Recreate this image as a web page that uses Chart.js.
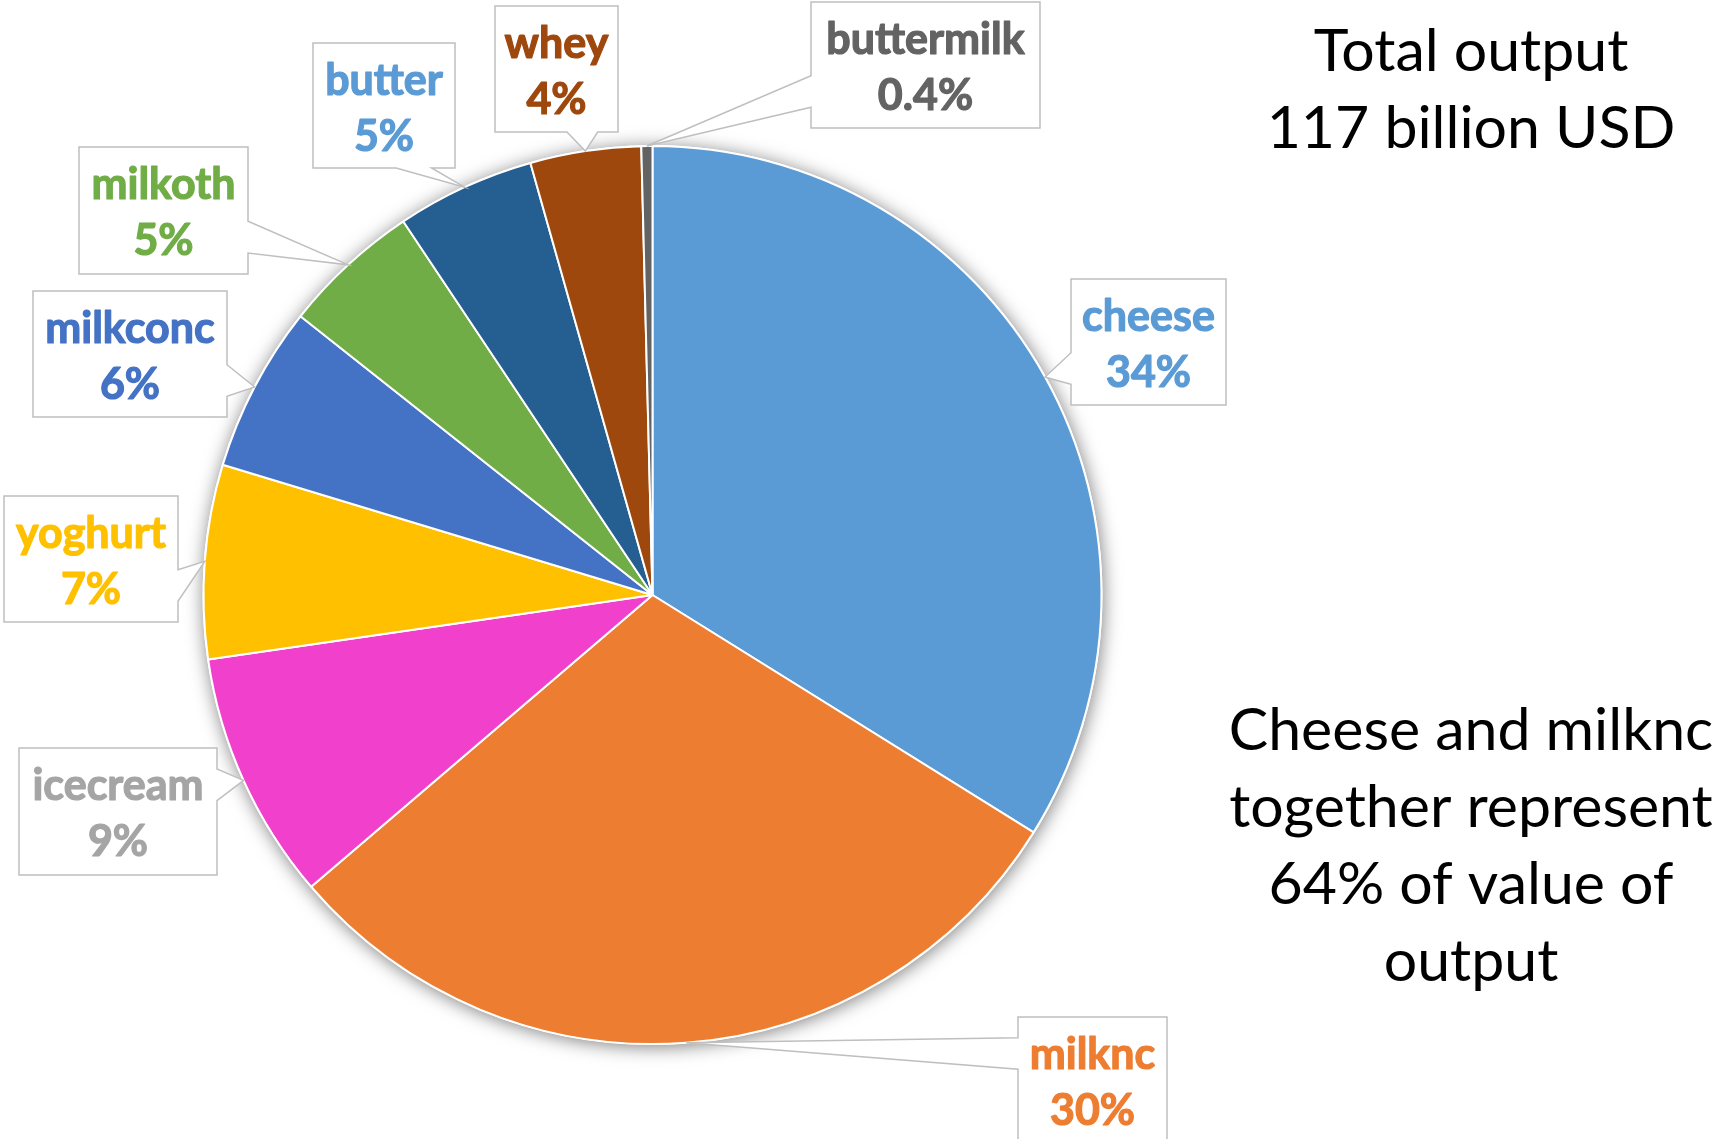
<!DOCTYPE html>
<html>
<head>
<meta charset="utf-8">
<script src="https://cdn.jsdelivr.net/npm/chart.js@4/dist/chart.umd.min.js"></script>
<style>
  html, body { margin: 0; padding: 0; background: #ffffff; }
  #wrap { width: 1716px; height: 1139px; position: relative; }
</style>
</head>
<body>
<div id="wrap"><canvas id="pie" width="1716" height="1139"></canvas></div>
<script>
// Dairy output by product, share of total value (%)
const categories = ['cheese', 'milknc', 'icecream', 'yoghurt', 'milkconc', 'milkoth', 'butter', 'whey', 'buttermilk'];
const shares = [34, 30, 9, 7, 6, 5, 5, 4, 0.4];

const sliceColors = ['#5B9BD5', '#ED7D31', '#F040CC', '#FFC000', '#4472C4', '#70AD47', '#255E91', '#9E480E', '#636363'];
const labelColors = ['#5B9BD5', '#ED7D31', '#A5A5A5', '#FFC000', '#4472C4', '#70AD47', '#5B9BD5', '#9E480E', '#636363'];

const totalLines = ['Total output', '117 billion USD'];
const noteLines = ['Cheese and milknc', 'together represent', '64% of value of', 'output'];

// Callout box layout: left, top, width, height, side the pointer leaves from
const calloutBoxes = [
  [1071, 279, 155, 126, 'L'],
  [1018, 1017, 149, 126, 'L'],
  [19, 748, 198, 127, 'R'],
  [4, 496, 174, 126, 'R'],
  [33, 291, 194, 126, 'R'],
  [79, 147, 169, 127, 'R'],
  [313, 43, 142, 125, 'B'],
  [495, 6, 123, 126, 'B'],
  [811, 2, 229, 126, 'L']
];

const LABEL_FONT = 'Lato, "Open Sans", sans-serif';

// Soft glow drawn behind the whole pie
const pieShadow = {
  id: 'pieShadow',
  beforeDatasetsDraw(chart) {
    const arc = chart.getDatasetMeta(0).data[0];
    if (!arc) return;
    const { x, y, outerRadius } = arc.getProps(['x', 'y', 'outerRadius'], true);
    const ctx = chart.ctx;
    ctx.save();
    ctx.shadowColor = 'rgba(0,0,0,0.5)';
    ctx.shadowBlur = 18;
    ctx.shadowOffsetX = 1;
    ctx.shadowOffsetY = 2;
    ctx.beginPath();
    ctx.arc(x, y, outerRadius + 1, 0, Math.PI * 2);
    ctx.fillStyle = '#ffffff';
    ctx.fill();
    ctx.restore();
  }
};

// Wedge-shaped callouts pointing at the outer edge of each slice
const callouts = {
  id: 'callouts',
  afterDatasetsDraw(chart) {
    const ctx = chart.ctx;
    const meta = chart.getDatasetMeta(0);
    meta.data.forEach((arc, i) => {
      const p = arc.getProps(['x', 'y', 'startAngle', 'endAngle', 'outerRadius'], true);
      const mid = (p.startAngle + p.endAngle) / 2;
      const ax = p.x + Math.cos(mid) * p.outerRadius;
      const ay = p.y + Math.sin(mid) * p.outerRadius;
      const [l, t, w, h, side] = calloutBoxes[i];
      const r = l + w, b = t + h;
      ctx.save();
      ctx.beginPath();
      if (side === 'L' || side === 'R') {
        const far = ay > t + h / 2;
        const b0 = t + h * (far ? 0.585 : 0.165);
        const b1 = t + h * (far ? 0.835 : 0.415);
        if (side === 'R') {
          ctx.moveTo(l, t); ctx.lineTo(r, t); ctx.lineTo(r, b0); ctx.lineTo(ax, ay);
          ctx.lineTo(r, b1); ctx.lineTo(r, b); ctx.lineTo(l, b);
        } else {
          ctx.moveTo(l, t); ctx.lineTo(r, t); ctx.lineTo(r, b); ctx.lineTo(l, b);
          ctx.lineTo(l, b1); ctx.lineTo(ax, ay); ctx.lineTo(l, b0);
        }
      } else {
        const far = ax > l + w / 2;
        const b0 = l + w * (far ? 0.585 : 0.165);
        const b1 = l + w * (far ? 0.835 : 0.415);
        ctx.moveTo(l, t); ctx.lineTo(r, t); ctx.lineTo(r, b); ctx.lineTo(b1, b);
        ctx.lineTo(ax, ay); ctx.lineTo(b0, b); ctx.lineTo(l, b);
      }
      ctx.closePath();
      ctx.fillStyle = '#ffffff';
      ctx.fill();
      ctx.lineWidth = 1.5;
      ctx.strokeStyle = '#BFBFBF';
      ctx.stroke();

      ctx.fillStyle = labelColors[i];
      ctx.strokeStyle = labelColors[i];
      ctx.lineWidth = 1.2;
      ctx.lineJoin = 'round';
      ctx.font = 'bold 43px ' + LABEL_FONT;
      ctx.textAlign = 'center';
      ctx.textBaseline = 'alphabetic';
      const cx = l + w / 2;
      const pct = shares[i] + '%';
      ctx.fillText(categories[i], cx, t + 52);
      ctx.strokeText(categories[i], cx, t + 52);
      ctx.fillText(pct, cx, t + 108);
      ctx.strokeText(pct, cx, t + 108);
      ctx.restore();
    });
  }
};

// Free-standing notes at the right of the chart
const notes = {
  id: 'notes',
  afterDraw(chart) {
    const ctx = chart.ctx;
    ctx.save();
    ctx.fillStyle = '#000000';
    ctx.font = '59px ' + LABEL_FONT;
    ctx.textAlign = 'center';
    ctx.textBaseline = 'alphabetic';
    totalLines.forEach((s, k) => ctx.fillText(s, 1471, 71 + k * 77));
    noteLines.forEach((s, k) => ctx.fillText(s, 1471, 750 + k * 77));
    ctx.restore();
  }
};

new Chart(document.getElementById('pie'), {
  type: 'pie',
  data: {
    labels: categories,
    datasets: [{
      data: shares,
      backgroundColor: sliceColors,
      borderColor: '#ffffff',
      borderWidth: 2,
      radius: 449
    }]
  },
  options: {
    responsive: false,
    animation: false,
    events: [],
    layout: { padding: { left: 203, right: 614, top: 146, bottom: 95 } },
    plugins: {
      legend: { display: false },
      tooltip: { enabled: false },
      title: { display: false }
    }
  },
  plugins: [pieShadow, callouts, notes]
});
</script>
</body>
</html>
